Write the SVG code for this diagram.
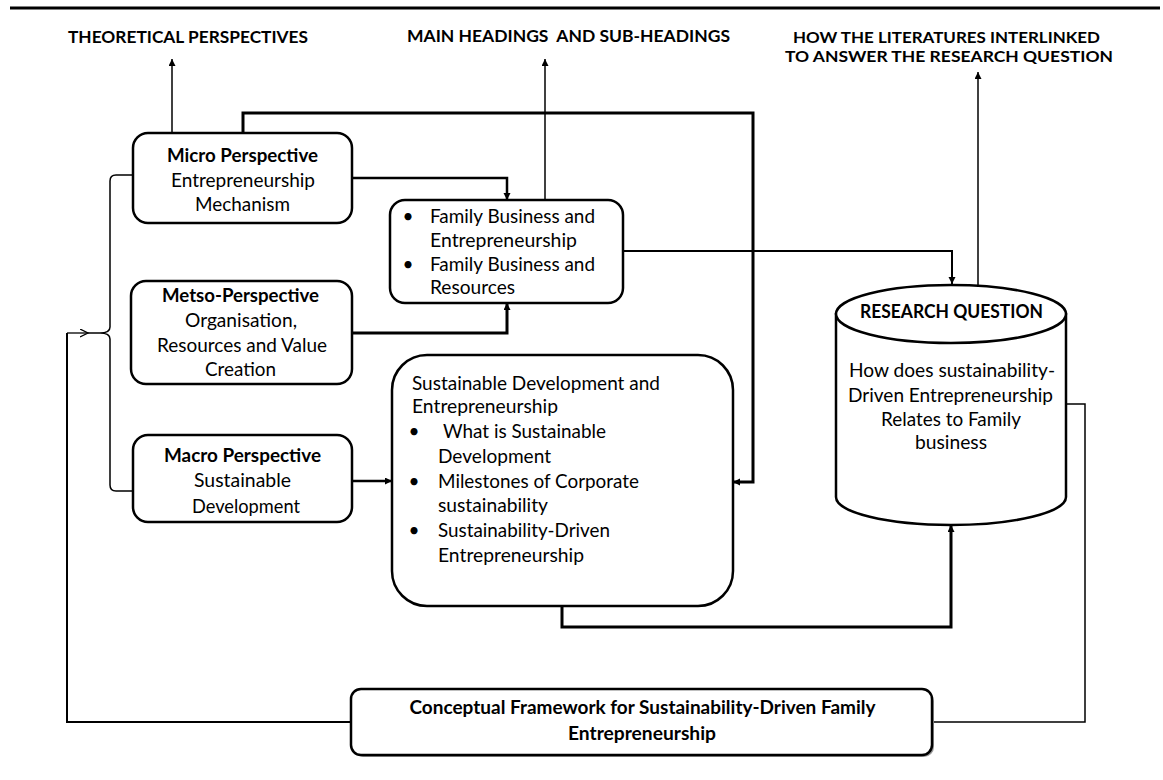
<svg xmlns="http://www.w3.org/2000/svg" width="1163" height="780" viewBox="0 0 1163 780">
<style>
  .t { font-family: Lato, "Liberation Sans", Arial, sans-serif; font-size: 19px; fill: #000; }
  .b { font-weight: bold; }
  .h { font-family: Lato, "Liberation Sans", Arial, sans-serif; font-size: 17px; font-weight: bold; fill: #000; }
  .h2 { font-size: 15px; }
  .box { fill: #fff; stroke: #000; stroke-width: 2.5; }
  .c { fill: none; stroke: #000; stroke-linejoin: miter; }
</style>
<defs>
  <marker id="ah" markerUnits="userSpaceOnUse" markerWidth="8" markerHeight="8" refX="7" refY="3.5" orient="auto">
    <path d="M0,0 L7,3.5 L0,7 z" fill="#000"/>
  </marker>
  <marker id="open" markerUnits="userSpaceOnUse" markerWidth="10" markerHeight="10" refX="8" refY="4" orient="auto">
    <path d="M0,0 L8,4 L0,8" fill="none" stroke="#000" stroke-width="1.3"/>
  </marker>
</defs>
<rect width="1163" height="780" fill="#fff"/>
<line x1="10" y1="8" x2="1160" y2="8" stroke="#000" stroke-width="3"/>

<g id="titles">
  <text class="h" x="68" y="43" textLength="240" lengthAdjust="spacingAndGlyphs">THEORETICAL PERSPECTIVES</text>
  <text class="h" x="407" y="42" textLength="323" lengthAdjust="spacingAndGlyphs" xml:space="preserve">MAIN HEADINGS  AND SUB-HEADINGS</text>
  <text class="h h2" x="793" y="43" textLength="307" lengthAdjust="spacingAndGlyphs">HOW THE LITERATURES INTERLINKED</text>
  <text class="h h2" x="785" y="62" textLength="328" lengthAdjust="spacingAndGlyphs">TO ANSWER THE RESEARCH QUESTION</text>
</g>

<g id="connectors">
  <path class="c" stroke-width="1.5" d="M172 133 V59" marker-end="url(#ah)"/>
  <path class="c" stroke-width="1.5" d="M545 200 V59" marker-end="url(#ah)"/>
  <path class="c" stroke-width="1.5" d="M978 286 V72" marker-end="url(#ah)"/>
  <path class="c" stroke-width="3" d="M243 133 V113 H753 V482 H733" marker-end="url(#ah)"/>
  <path class="c" stroke-width="2.5" d="M352 178 H507 V200" marker-end="url(#ah)"/>
  <path class="c" stroke-width="3" d="M352 333 H507 V303" marker-end="url(#ah)"/>
  <path class="c" stroke-width="2.5" d="M352 481 H392" marker-end="url(#ah)"/>
  <path class="c" stroke-width="2" d="M623 251 H952 V284" marker-end="url(#ah)"/>
  <path class="c" stroke-width="3" d="M562 606 V627 H951 V525" marker-end="url(#ah)"/>
  <path class="c" stroke-width="1.5" stroke="#333" d="M1066 404 H1085 V722 H932"/>
  <path class="c" stroke-width="2" stroke="#808080" d="M351 722 H67 V333"/>
  <path class="c" stroke-width="1.3" d="M67 333 H88" marker-end="url(#open)"/>
  <path class="c" stroke-width="1.5" d="M88 333 H100"/>
  <path class="c" stroke-width="1.5" d="M132 175 H116 Q110 175 110 181 V327 Q110 333 100 333 Q110 333 110 339 V485 Q110 491 116 491 H132"/>
</g>

<g id="micro">
  <rect class="box" x="133" y="133" width="219" height="90" rx="15"/>
  <text class="t b" x="167" y="162" textLength="151" lengthAdjust="spacingAndGlyphs">Micro Perspective</text>
  <text class="t" x="171" y="187" textLength="144" lengthAdjust="spacingAndGlyphs">Entrepreneurship</text>
  <text class="t" x="195" y="211" textLength="95" lengthAdjust="spacingAndGlyphs">Mechanism</text>
</g>

<g id="metso">
  <rect class="box" x="131" y="281" width="221" height="103" rx="15"/>
  <text class="t b" x="162" y="302" textLength="157" lengthAdjust="spacingAndGlyphs">Metso-Perspective</text>
  <text class="t" x="185" y="327" textLength="112" lengthAdjust="spacingAndGlyphs">Organisation,</text>
  <text class="t" x="157" y="352" textLength="170" lengthAdjust="spacingAndGlyphs">Resources and Value</text>
  <text class="t" x="205" y="376" textLength="71" lengthAdjust="spacingAndGlyphs">Creation</text>
</g>

<g id="macro">
  <rect class="box" x="133" y="435" width="219" height="87" rx="15"/>
  <text class="t b" x="164" y="462" textLength="157" lengthAdjust="spacingAndGlyphs">Macro Perspective</text>
  <text class="t" x="194" y="487" textLength="97" lengthAdjust="spacingAndGlyphs">Sustainable</text>
  <text class="t" x="192" y="513" textLength="108" lengthAdjust="spacingAndGlyphs">Development</text>
</g>

<g id="family-business">
  <rect class="box" x="390" y="200" width="233" height="103" rx="15"/>
  <text class="t" x="408" y="223" text-anchor="middle">•</text>
  <text class="t" x="430" y="223" textLength="165" lengthAdjust="spacingAndGlyphs">Family Business and</text>
  <text class="t" x="430" y="247" textLength="147" lengthAdjust="spacingAndGlyphs">Entrepreneurship</text>
  <text class="t" x="408" y="271" text-anchor="middle">•</text>
  <text class="t" x="430" y="271" textLength="165" lengthAdjust="spacingAndGlyphs">Family Business and</text>
  <text class="t" x="430" y="294" textLength="85" lengthAdjust="spacingAndGlyphs">Resources</text>
</g>

<g id="sustainable-development">
  <rect class="box" x="392" y="355" width="341" height="251" rx="35"/>
  <text class="t" x="412" y="390" textLength="248" lengthAdjust="spacingAndGlyphs">Sustainable Development and</text>
  <text class="t" x="412" y="413" textLength="146" lengthAdjust="spacingAndGlyphs">Entrepreneurship</text>
  <text class="t" x="414" y="438" text-anchor="middle">•</text>
  <text class="t" x="443" y="438" textLength="163" lengthAdjust="spacingAndGlyphs">What is Sustainable</text>
  <text class="t" x="438" y="463" textLength="113" lengthAdjust="spacingAndGlyphs">Development</text>
  <text class="t" x="414" y="488" text-anchor="middle">•</text>
  <text class="t" x="438" y="488" textLength="201" lengthAdjust="spacingAndGlyphs">Milestones of Corporate</text>
  <text class="t" x="438" y="512" textLength="110" lengthAdjust="spacingAndGlyphs">sustainability</text>
  <text class="t" x="414" y="537" text-anchor="middle">•</text>
  <text class="t" x="438" y="537" textLength="172" lengthAdjust="spacingAndGlyphs">Sustainability-Driven</text>
  <text class="t" x="438" y="562" textLength="146" lengthAdjust="spacingAndGlyphs">Entrepreneurship</text>
</g>

<g id="research-question">
  <path class="box" d="M836 314 V497 A115 28 0 0 0 1066 497 V314 Z"/>
  <ellipse class="box" cx="951" cy="314" rx="115" ry="29"/>
  <text class="t b" x="860" y="318" textLength="183" lengthAdjust="spacingAndGlyphs">RESEARCH QUESTION</text>
  <text class="t" x="849" y="377" textLength="206" lengthAdjust="spacingAndGlyphs">How does sustainability-</text>
  <text class="t" x="848" y="402" textLength="205" lengthAdjust="spacingAndGlyphs">Driven Entrepreneurship</text>
  <text class="t" x="881" y="426" textLength="140" lengthAdjust="spacingAndGlyphs">Relates to Family</text>
  <text class="t" x="915" y="449" textLength="72" lengthAdjust="spacingAndGlyphs">business</text>
</g>

<g id="conceptual-framework">
  <rect x="353" y="691" width="581" height="66" rx="10" fill="#999"/>
  <rect class="box" x="351" y="689" width="581" height="66" rx="10"/>
  <text class="t b" x="409.5" y="714" textLength="466" lengthAdjust="spacingAndGlyphs">Conceptual Framework for Sustainability-Driven Family</text>
  <text class="t b" x="568" y="740" textLength="148" lengthAdjust="spacingAndGlyphs">Entrepreneurship</text>
</g>
</svg>
